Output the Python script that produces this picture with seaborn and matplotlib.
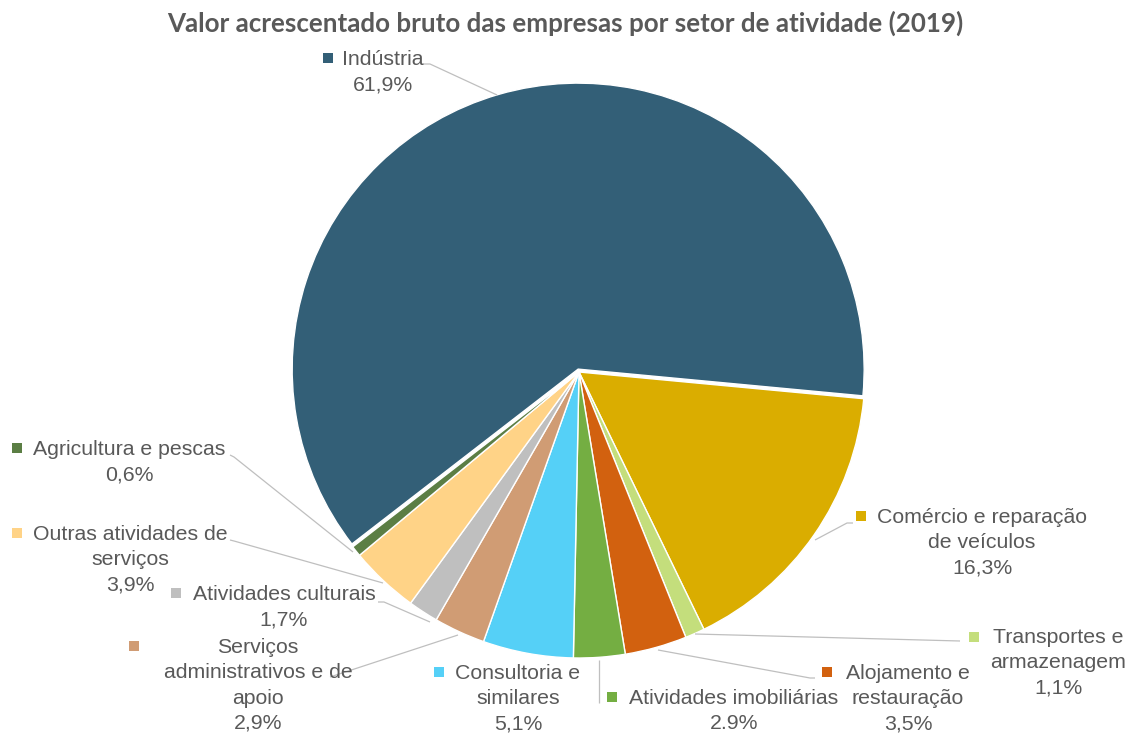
import matplotlib
matplotlib.use("Agg")
import matplotlib.pyplot as plt
import seaborn as sns
from matplotlib.patches import Rectangle

# ---------------- data ----------------
sectors = ["Indústria", "Comércio e reparação de veículos", "Transportes e armazenagem",
           "Alojamento e restauração", "Atividades imobiliárias", "Consultoria e similares",
           "Serviços administrativos e de apoio", "Atividades culturais",
           "Outras atividades de serviços", "Agricultura e pescas"]
label_lines = [["Indústria"], ["Comércio e reparação", "de veículos"], ["Transportes e", "armazenagem"],
               ["Alojamento e", "restauração"], ["Atividades imobiliárias"], ["Consultoria e", "similares"],
               ["Serviços", "administrativos e de", "apoio"], ["Atividades culturais"],
               ["Outras atividades de", "serviços"], ["Agricultura e pescas"]]
shares = [61.9, 16.3, 1.1, 3.5, 2.9, 5.1, 2.9, 1.7, 3.9, 0.6]
share_labels = ["61,9%", "16,3%", "1,1%", "3,5%", "2.9%", "5,1%", "2,9%", "1,7%", "3,9%", "0,6%"]
colors = ["#335F77", "#DAAD00", "#C4DE7C", "#D2610F", "#74AE42", "#55D0F7",
          "#D09C74", "#BFBFBF", "#FFD387", "#5B7E44"]
title = "Valor acrescentado bruto das empresas por setor de atividade (2019)"

# ---------------- layout (image pixel coords, y down) ----------------
W, H = 1129, 733
CX, CY, R = 579, 372, 286
# (text centre x, first line centre y, legend-square centre x, square centre y)
label_pos = [(383, 58, 328, 58), (982, 516, 861, 516), (1058, 636, 974, 637),
             (908, 672, 827, 672), (734, 697, 612, 697), (518, 672, 439, 672),
             (258, 646, 134, 646), (284, 593, 176, 593), (130, 533, 17, 533),
             (129, 448, 17, 448)]
leaders = [[(423, 64), (430, 64), (497, 95)],
           [(853, 523), (847, 523), (815, 540)],
           [(960, 641), (695, 634)],
           [(815, 678), (810, 678), (658, 650)],
           [(599, 703), (599, 660)],
           None,
           [(330, 677), (458, 635)],
           [(378, 602), (384, 602), (430, 622)],
           [(230, 540), (234, 541), (383, 583)],
           [(230, 455), (234, 457), (353, 552)]]
LINE_H = 25.3
FS = 15.3
TXT = "#595959"

sns.set_theme(style="white")
plt.rcParams["font.family"] = ["Liberation Sans", "DejaVu Sans"]

fig = plt.figure(figsize=(W / 100, H / 100), dpi=100)
fig.patch.set_facecolor("white")
ax = fig.add_axes([0, 0, 1, 1])

def Y(y):
    return H - y

explode = [3] + [0] * (len(shares) - 1)
ax.pie(shares, colors=colors, startangle=-142.3, counterclock=False,
       center=(CX, Y(CY)), radius=R, explode=explode,
       wedgeprops=dict(edgecolor="white", linewidth=1.0))
ax.set_xlim(0, W)
ax.set_ylim(0, H)
ax.set_aspect("equal")
ax.axis("off")

# leader lines
for pts in leaders:
    if pts is None:
        continue
    ax.plot([p[0] for p in pts], [Y(p[1]) for p in pts], color="#BFBFBF", lw=0.9,
            solid_capstyle="butt", zorder=1)

# labels
SQ = 10
for lines, pct, col, (tx, ty, sx, sy) in zip(label_lines, share_labels, colors, label_pos):
    all_lines = lines + [pct]
    for i, ln in enumerate(all_lines):
        ax.text(tx, Y(ty + i * LINE_H + 7), ln, ha="center", va="baseline",
                fontsize=FS, color=TXT)
    ax.add_patch(Rectangle((sx - SQ / 2, Y(sy) - SQ / 2), SQ, SQ, facecolor=col,
                           edgecolor="none", zorder=3))

# title, fitted to the reference width
t = fig.text(565 / W, 1 - 23 / H, title, ha="center", va="center",
             fontsize=18, fontweight="bold", color=TXT, family=["Lato", "DejaVu Sans"])
r = fig.canvas.get_renderer()
w = t.get_window_extent(r).width
t.set_fontsize(18 * 795 / w)

fig.savefig("out.png", dpi=100, facecolor="white")
